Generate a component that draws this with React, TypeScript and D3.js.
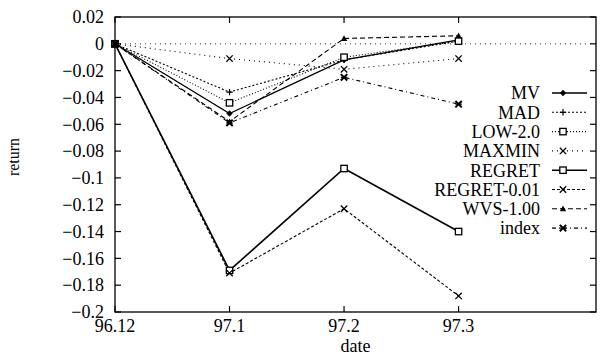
import React from "react";
import * as d3 from "d3";

const dates = ["96.12", "97.1", "97.2", "97.3"];
const yTicks = [0.02, 0, -0.02, -0.04, -0.06, -0.08, -0.1, -0.12, -0.14, -0.16, -0.18, -0.2];

const mv = [0, -0.052, -0.012, 0.003];
const mad = [0, -0.036, -0.012, 0.002];
const low = [0, -0.044, -0.010, 0.002];
const maxmin = [0, -0.011, -0.019, -0.011];
const regret = [0, -0.169, -0.093, -0.140];
const regret001 = [0, -0.171, -0.123, -0.188];
const wvs = [0, -0.058, 0.004, 0.006];
const indexS = [0, -0.059, -0.025, -0.045];

type Mk = "diamond" | "plus" | "square" | "cross" | "triangle" | "star";
const series: { name: string; values: number[]; dash: string; width: number; marker: Mk }[] = [
  { name: "MV", values: mv, dash: "none", width: 1.3, marker: "diamond" },
  { name: "MAD", values: mad, dash: "2,2", width: 1.1, marker: "plus" },
  { name: "LOW-2.0", values: low, dash: "1,2", width: 1.1, marker: "square" },
  { name: "MAXMIN", values: maxmin, dash: "1,4", width: 1.1, marker: "cross" },
  { name: "REGRET", values: regret, dash: "none", width: 1.6, marker: "square" },
  { name: "REGRET-0.01", values: regret001, dash: "3,2", width: 1.1, marker: "cross" },
  { name: "WVS-1.00", values: wvs, dash: "5,3", width: 1.1, marker: "triangle" },
  { name: "index", values: indexS, dash: "4,3,1,3", width: 1.1, marker: "star" },
];

const W = 601, H = 362;
const L = 115, R = 596, T = 17, B = 312;
const FONT = "'Liberation Serif', 'Times New Roman', serif";

function Marker({ type, x, y }: { type: Mk; x: number; y: number }) {
  const s = 3.2;
  switch (type) {
    case "diamond":
      return <path d={`M${x},${y - s}L${x + s},${y}L${x},${y + s}L${x - s},${y}Z`} fill="#000" />;
    case "plus":
      return <path d={`M${x - s},${y}H${x + s}M${x},${y - s}V${y + s}`} stroke="#000" strokeWidth={1.2} />;
    case "square":
      return <rect x={x - s} y={y - s} width={2 * s} height={2 * s} fill="#fff" stroke="#000" strokeWidth={1.3} />;
    case "cross":
      return <path d={`M${x - s},${y - s}L${x + s},${y + s}M${x - s},${y + s}L${x + s},${y - s}`} stroke="#000" strokeWidth={1.3} />;
    case "triangle":
      return <path d={`M${x},${y - s}L${x + s},${y + s * 0.8}L${x - s},${y + s * 0.8}Z`} fill="#000" />;
    case "star":
      return (
        <g>
          <path d={`M${x - s},${y - s}L${x + s},${y + s}M${x - s},${y + s}L${x + s},${y - s}`} stroke="#000" strokeWidth={2} />
          <path d={`M${x - s},${y}H${x + s}`} stroke="#000" strokeWidth={1.2} />
        </g>
      );
  }
  return null;
}

export default function App() {
  const x = d3.scaleLinear().domain([0, 4.2]).range([L, R]);
  const y = d3.scaleLinear().domain([-0.2, 0.02]).range([B, T]);
  const line = d3.line<number>().x((_, i) => x(i)).y((d) => y(d));
  const tk = 6;

  return (
    <svg width={W} height={H} style={{ position: "absolute", left: 0, top: 0, background: "#fff" }} fontFamily={FONT}>
      <rect width={W} height={H} fill="#fff" />
      {/* zero axis */}
      <line x1={L} x2={R} y1={y(0)} y2={y(0)} stroke="#000" strokeWidth={0.8} strokeDasharray="1,4" />
      {/* series lines */}
      {series.map((s) => (
        <path key={s.name} d={line(s.values) || ""} fill="none" stroke="#000" strokeWidth={s.width}
          strokeDasharray={s.dash === "none" ? undefined : s.dash} />
      ))}
      {series.map((s) =>
        s.values.map((v, i) => <Marker key={s.name + i} type={s.marker} x={x(i)} y={y(v)} />)
      )}
      {/* frame */}
      <rect x={L} y={T} width={R - L} height={B - T} fill="none" stroke="#000" strokeWidth={1.3} />
      {yTicks.map((t) => (
        <g key={t}>
          <line x1={L} x2={L + tk} y1={y(t)} y2={y(t)} stroke="#000" strokeWidth={1.2} />
          <line x1={R} x2={R - tk} y1={y(t)} y2={y(t)} stroke="#000" strokeWidth={1.2} />
          <text x={104} y={y(t)} dy="0.35em" textAnchor="end" fontSize={18}>{d3.format("")(t)}</text>
        </g>
      ))}
      {dates.map((d, i) => (
        <g key={d}>
          <line x1={x(i)} x2={x(i)} y1={B} y2={B - tk} stroke="#000" strokeWidth={1.2} />
          <line x1={x(i)} x2={x(i)} y1={T} y2={T + tk} stroke="#000" strokeWidth={1.2} />
          <text x={x(i)} y={B + 20} textAnchor="middle" fontSize={18}>{d}</text>
        </g>
      ))}
      <text x={(L + R) / 2} y={B + 40} textAnchor="middle" fontSize={18}>date</text>
      <text transform={`translate(19,157) rotate(-90)`} textAnchor="middle" fontSize={16}>return</text>
      {/* legend */}
      {series.map((s, i) => {
        const ly = 93 + i * 19.3;
        return (
          <g key={s.name}>
            <text x={540} y={ly} dy="0.35em" textAnchor="end" fontSize={18}>{s.name}</text>
            <line x1={552} x2={587} y1={ly} y2={ly} stroke="#000" strokeWidth={s.width}
              strokeDasharray={s.dash === "none" ? undefined : s.dash} />
            <Marker type={s.marker} x={563} y={ly} />
          </g>
        );
      })}
    </svg>
  );
}
